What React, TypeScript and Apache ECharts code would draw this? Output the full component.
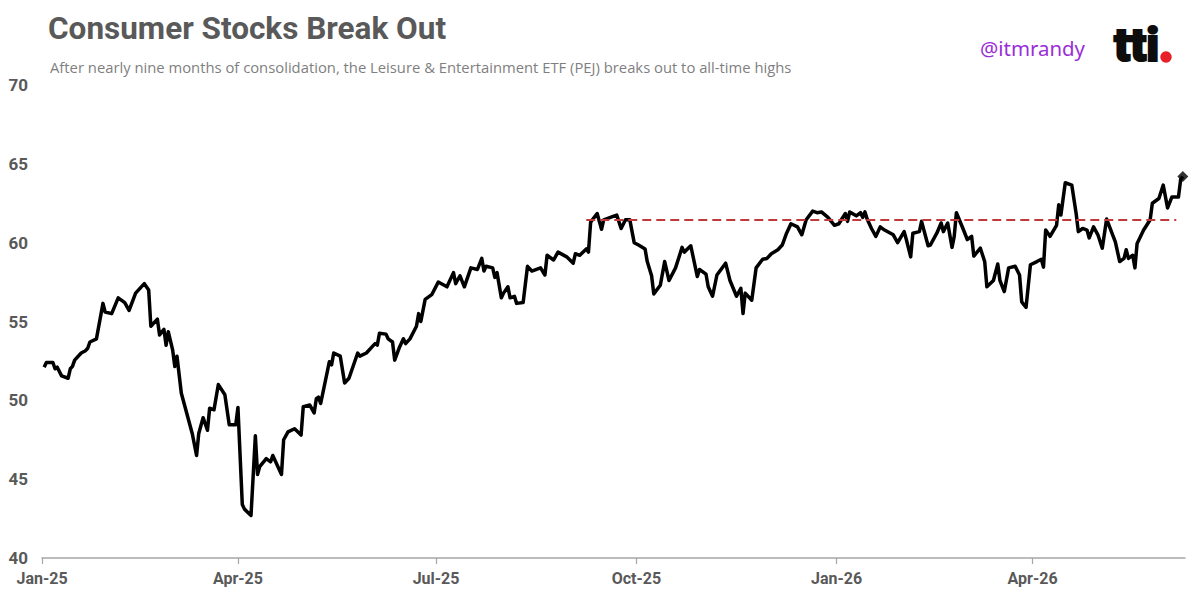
import React, { useEffect, useRef } from "react";
import * as echarts from "echarts";

const dates: string[] = [
  "2025-01-02","2025-01-03","2025-01-06","2025-01-07","2025-01-08","2025-01-10","2025-01-13","2025-01-14","2025-01-15","2025-01-16",
  "2025-01-19","2025-01-21","2025-01-22","2025-01-23","2025-01-26","2025-01-29","2025-01-30","2025-02-02","2025-02-05","2025-02-08",
  "2025-02-10","2025-02-13","2025-02-17","2025-02-19","2025-02-20","2025-02-23","2025-02-24","2025-02-26","2025-02-27","2025-02-28",
  "2025-03-02","2025-03-03","2025-03-04","2025-03-06","2025-03-11","2025-03-13","2025-03-14","2025-03-16","2025-03-18","2025-03-19",
  "2025-03-21","2025-03-23","2025-03-26","2025-03-28","2025-03-31","2025-04-01","2025-04-03","2025-04-04","2025-04-07","2025-04-09",
  "2025-04-10","2025-04-11","2025-04-14","2025-04-16","2025-04-17","2025-04-21","2025-04-22","2025-04-24","2025-04-27","2025-04-30",
  "2025-05-01","2025-05-04","2025-05-06","2025-05-07","2025-05-08","2025-05-09","2025-05-13","2025-05-14","2025-05-15","2025-05-18",
  "2025-05-20","2025-05-22","2025-05-26","2025-05-27","2025-05-30","2025-06-02","2025-06-03","2025-06-04","2025-06-05","2025-06-08",
  "2025-06-09","2025-06-11","2025-06-12","2025-06-14","2025-06-16","2025-06-17","2025-06-19","2025-06-22","2025-06-23","2025-06-24",
  "2025-06-26","2025-06-29","2025-07-02","2025-07-06","2025-07-09","2025-07-10","2025-07-12","2025-07-14","2025-07-17","2025-07-20",
  "2025-07-22","2025-07-23","2025-07-24","2025-07-27","2025-07-28","2025-07-29","2025-07-31","2025-08-01","2025-08-03","2025-08-04",
  "2025-08-06","2025-08-07","2025-08-10","2025-08-12","2025-08-14","2025-08-18","2025-08-20","2025-08-21","2025-08-24","2025-08-26",
  "2025-08-30","2025-09-02","2025-09-03","2025-09-05","2025-09-08","2025-09-09","2025-09-10","2025-09-13","2025-09-15","2025-09-16",
  "2025-09-20","2025-09-22","2025-09-24","2025-09-26","2025-09-28","2025-09-30","2025-10-02","2025-10-05","2025-10-06","2025-10-08",
  "2025-10-09","2025-10-12","2025-10-14","2025-10-16","2025-10-19","2025-10-22","2025-10-23","2025-10-26","2025-10-29","2025-10-30",
  "2025-11-02","2025-11-03","2025-11-05","2025-11-07","2025-11-11","2025-11-13","2025-11-16","2025-11-18","2025-11-19","2025-11-20",
  "2025-11-23","2025-11-25","2025-11-28","2025-11-30","2025-12-02","2025-12-05","2025-12-07","2025-12-09","2025-12-11","2025-12-14",
  "2025-12-16","2025-12-18","2025-12-21","2025-12-23","2025-12-25","2025-12-28","2025-12-31","2026-01-02","2026-01-05","2026-01-06",
  "2026-01-07","2026-01-10","2026-01-12","2026-01-13","2026-01-14","2026-01-15","2026-01-17","2026-01-19","2026-01-21","2026-01-23",
  "2026-01-27","2026-01-29","2026-02-01","2026-02-02","2026-02-04","2026-02-05","2026-02-08","2026-02-09","2026-02-12","2026-02-13",
  "2026-02-16","2026-02-18","2026-02-19","2026-02-21","2026-02-23","2026-02-24","2026-02-25","2026-02-28","2026-03-02","2026-03-04",
  "2026-03-05","2026-03-08","2026-03-10","2026-03-11","2026-03-14","2026-03-16","2026-03-17","2026-03-19","2026-03-21","2026-03-24",
  "2026-03-26","2026-03-27","2026-03-29","2026-03-31","2026-04-03","2026-04-05","2026-04-06","2026-04-07","2026-04-09","2026-04-12",
  "2026-04-13","2026-04-14","2026-04-16","2026-04-19","2026-04-21","2026-04-22","2026-04-24","2026-04-26","2026-04-27","2026-04-29",
  "2026-05-01","2026-05-03","2026-05-05","2026-05-09","2026-05-11","2026-05-13","2026-05-14","2026-05-15","2026-05-17","2026-05-18",
  "2026-05-19","2026-05-22","2026-05-25","2026-05-26","2026-05-29","2026-05-31","2026-06-02","2026-06-04","2026-06-07","2026-06-08",
  "2026-06-09",
];

const pejValues: number[] = [
  52.1,52.4,52.4,52.0,52.1,51.55,51.4,52.0,52.15,52.55,
  53.0,53.15,53.3,53.7,53.9,56.15,55.6,55.5,56.5,56.2,
  55.7,56.8,57.4,57.0,54.7,55.15,54.15,54.5,53.5,54.35,
  53.2,52.15,52.8,50.45,47.9,46.5,47.9,48.9,48.1,49.5,
  49.4,51.0,50.35,48.45,48.45,49.55,43.4,43.1,42.7,47.75,
  45.3,45.8,46.3,46.1,46.5,45.3,47.5,48.0,48.2,47.8,
  49.6,49.7,49.2,50.1,50.2,49.8,52.45,52.25,53.0,52.8,
  51.1,51.4,53.0,52.8,53.0,53.45,53.6,53.5,54.25,54.2,
  53.9,53.7,52.55,53.3,53.9,53.6,53.9,54.7,55.5,55.0,
  56.4,56.7,57.5,57.2,58.1,57.4,57.9,57.2,58.4,58.3,
  59.0,58.2,58.5,58.4,57.8,58.1,56.5,56.8,57.2,56.5,
  56.6,56.15,56.2,58.5,58.2,58.4,57.95,59.2,58.9,59.4,
  59.1,58.7,59.3,59.2,59.6,59.4,61.3,61.85,60.85,61.45,
  61.65,61.75,60.9,61.45,61.45,60.0,59.85,59.6,58.8,57.9,
  56.75,57.3,58.8,57.6,58.4,59.7,59.4,59.8,57.85,58.3,
  58.0,57.2,56.6,57.95,58.7,57.6,56.6,57.1,55.5,56.8,
  56.35,58.4,58.95,59.0,59.3,59.55,59.85,60.6,61.2,61.0,
  60.5,61.45,62.0,61.9,61.95,61.6,61.1,61.2,61.85,61.35,
  61.95,61.7,61.9,61.6,61.95,61.5,60.9,60.4,61.0,60.8,
  60.5,60.0,60.7,60.2,59.1,60.6,60.7,61.35,59.8,59.85,
  60.6,61.25,60.7,61.25,59.7,60.4,61.9,60.9,60.2,60.4,
  59.15,59.65,58.8,57.2,57.6,58.65,57.6,56.9,58.4,58.5,
  57.95,56.25,55.9,58.6,58.8,58.95,58.45,60.8,60.4,61.1,
  62.4,61.75,63.8,63.65,61.85,60.7,60.9,60.8,60.3,61.0,
  60.5,59.65,61.5,60.05,58.8,59.0,59.55,59.0,59.2,58.4,
  59.95,60.8,61.45,62.5,62.8,63.65,62.2,62.9,62.9,64.0,
  64.2,
];

const tickDates: string[] = ["2025-01-01", "2025-04-01", "2025-07-01", "2025-10-01", "2026-01-01", "2026-04-01"];
const tickLabels: string[] = ["Jan-25", "Apr-25", "Jul-25", "Oct-25", "Jan-26", "Apr-26"];

const axisStart = "2025-01-01";
const axisEnd = "2026-06-10";
const yMin = 40;
const yMax = 70;
const yStep = 5;

const resistanceLevel = 61.45;
const resistanceStart = "2025-09-08";
const resistanceEnd = "2026-06-06";

const titleText = "Consumer Stocks Break Out";
const subtitleText =
  "After nearly nine months of consolidation, the Leisure & Entertainment ETF (PEJ) breaks out to all-time highs";
const handleText = "@itmrandy";
const logoText = "tti";

function toTime(s: string): number {
  const [y, m, d] = s.split("-").map(Number);
  return Date.UTC(y, m - 1, d);
}

export default function App() {
  const ref = useRef<HTMLDivElement>(null);

  useEffect(() => {
    document.body.style.margin = "0";
    if (!ref.current) return;
    const chart = echarts.init(ref.current, undefined, { renderer: "svg" });

    const seriesData = dates.map((d, i) => [toTime(d), pejValues[i]]);
    const tickTimes = tickDates.map(toTime);
    const last = seriesData[seriesData.length - 1];

    const labelStyle = {
      color: "#595959",
      fontWeight: "bold" as const,
      fontFamily: "Roboto",
    };

    chart.setOption({
      animation: false,
      backgroundColor: "#ffffff",
      grid: { left: 42, right: 15, top: 85, bottom: 43, containLabel: false, outerBoundsMode: "none" },
      xAxis: {
        type: "value",
        min: toTime(axisStart),
        max: toTime(axisEnd),
        scale: true,
        splitLine: { show: false },
        axisLine: { show: true, lineStyle: { color: "#a6a6a6", width: 1.5 } },
        axisTick: { show: true, length: 6, lineStyle: { color: "#a6a6a6", width: 1.2 }, customValues: tickTimes },
        axisLabel: {
          ...labelStyle,
          fontSize: 16,
          margin: 12,
          customValues: tickTimes,
          showMinLabel: true,
          showMaxLabel: true,
          formatter: (v: number) => {
            const i = tickTimes.findIndex((t) => Math.abs(t - v) < 43200000);
            return i >= 0 ? tickLabels[i] : "";
          },
        },
      },
      yAxis: {
        type: "value",
        min: yMin,
        max: yMax,
        interval: yStep,
        splitLine: { show: false },
        axisLine: { show: false },
        axisTick: { show: false },
        axisLabel: { ...labelStyle, fontSize: 17, margin: 14 },
      },
      series: [
        {
          type: "line",
          data: seriesData,
          showSymbol: false,
          symbol: "none",
          lineStyle: { color: "#000000", width: 3.5, join: "round" },
          z: 3,
          markLine: {
            silent: true,
            symbol: ["none", "none"],
            label: { show: false },
            lineStyle: { color: "#c0393b", width: 2.2, type: [9, 5] },
            data: [
              [
                { coord: [toTime(resistanceStart), resistanceLevel] },
                { coord: [toTime(resistanceEnd), resistanceLevel] },
              ],
            ],
          },
        },
        {
          type: "scatter",
          data: [last],
          symbol: "diamond",
          symbolSize: 11,
          itemStyle: { color: "#000000" },
          z: 4,
        },
      ],
      graphic: [
        {
          type: "text",
          left: 48,
          top: 12,
          style: {
            text: titleText,
            fontSize: 31.5,
            fontWeight: "bold",
            fontFamily: "Roboto",
            fill: "#595959",
          },
        },
        {
          type: "text",
          left: 50,
          top: 59,
          style: {
            text: subtitleText,
            fontSize: 14.8,
            fontFamily: "Open Sans",
            fill: "#7f7f7f",
          },
        },
        {
          type: "text",
          left: 980,
          top: 38,
          style: {
            text: handleText,
            fontSize: 20.4,
            fontFamily: "Noto Sans",
            fill: "#9a2ed6",
          },
        },
        {
          type: "text",
          left: 1113,
          top: 20,
          style: {
            text: logoText,
            fontSize: 47,
            fontWeight: 900,
            fontFamily: "Roboto",
            fill: "#0d0d0d",
            stroke: "#0d0d0d",
            lineWidth: 2,
          },
        },
        {
          type: "circle",
          shape: { cx: 1166, cy: 57, r: 5.7 },
          style: { fill: "#e8202a" },
        },
      ],
    });

    return () => chart.dispose();
  }, []);

  return <div ref={ref} style={{ width: 1200, height: 601 }} />;
}
